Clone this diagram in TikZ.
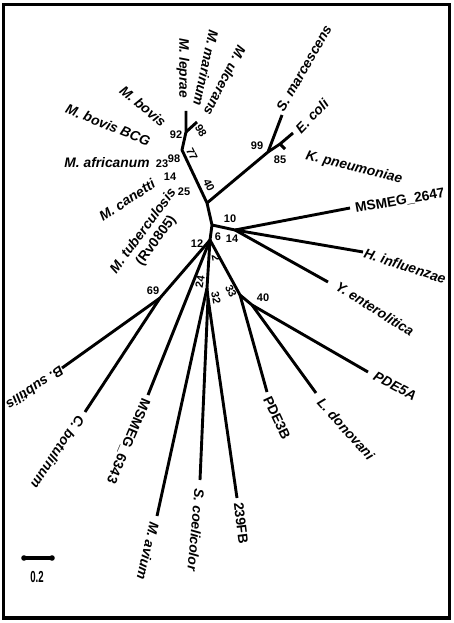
\documentclass[tikz,border=0pt]{standalone}
\usepackage{fontspec}
\setmainfont{Liberation Sans}
\begin{document}
\begin{tikzpicture}[x=1pt,y=-1pt,
  br/.style={line width=2.9pt, line join=round},
  sp/.style={font=\fontsize{13.8}{16}\selectfont\bfseries\itshape, inner sep=0pt},
  sq/.style={font=\fontsize{13.8}{16}\selectfont\bfseries, inner sep=0pt},
  bs/.style={font=\fontsize{11}{12}\selectfont\bfseries, inner sep=0pt}]
\useasboundingbox (0,0) rectangle (454,623);
\draw[line width=3.6pt] (3.5,4.5) rectangle (449.5,618);
% internal nodes
\coordinate (A) at (210,240);
\coordinate (B) at (212,225);
\coordinate (C) at (235,230);
\coordinate (D) at (207,203);
\coordinate (E) at (268,152);
\coordinate (F) at (280,144);
\coordinate (G) at (182,150);
\coordinate (H) at (186,132);
\coordinate (J) at (160,298);
\coordinate (K) at (207,288);
\coordinate (L) at (208,298);
\coordinate (M) at (240,295);
\coordinate (N) at (252,305);
% tips
\coordinate (tLep) at (186,111);
\coordinate (tMar) at (197,122);
\coordinate (tSma) at (282,115);
\coordinate (tEco) at (293,133);
\coordinate (tKpn) at (285,149);
\coordinate (tMs2) at (350,208);
\coordinate (tHin) at (363,252);
\coordinate (tYen) at (328,282);
\coordinate (tBsu) at (62,368);
\coordinate (tCbo) at (85,412);
\coordinate (tMs6) at (148,395);
\coordinate (tMav) at (157,516);
\coordinate (tSco) at (200,480);
\coordinate (t239) at (237,498);
\coordinate (tP3B) at (267,392);
\coordinate (tLdo) at (316,393);
\coordinate (tP5A) at (368,372);
% branches
\draw[br] (A) -- (B) -- (D) -- (G) -- (H) -- (tLep);
\draw[br] (H) -- (tMar);
\draw[br] (D) -- (E) -- (tSma);
\draw[br] (E) -- (F) -- (tEco);
\draw[br] (F) -- (tKpn);
\draw[br] (B) -- (C) -- (tMs2);
\draw[br] (C) -- (tHin);
\draw[br] (C) -- (tYen);
\draw[br] (A) -- (J) -- (tBsu);
\draw[br] (J) -- (tCbo);
\draw[br] (A) -- (tMs6);
\draw[br] (A) -- (K) -- (tMav);
\draw[br] (K) -- (L) -- (tSco);
\draw[br] (L) -- (t239);
\draw[br] (A) -- (M) -- (tP3B);
\draw[br] (M) -- (N) -- (tLdo);
\draw[br] (N) -- (tP5A);
% leaf labels
\node[sp,rotate=-90] (lLep) at (183,68) {M. leprae};
\node[sp,rotate=-102] (lMar) at (206,68) {M. marinum};
\node[sp,rotate=-117] (lUlc) at (225,81) {M. ulcerans};
\node[sp,rotate=60] (lSma) at (304,68) {S. marcescens};
\node[sp,rotate=46] (lEco) at (312,116) {E. coli};
\node[sp,rotate=-14] (lKpn) at (354,168) {K. pneumoniae};
\node[sq,rotate=10] (lMs2) at (400,201) {MSMEG\_2647};
\node[sp,rotate=-18] (lHin) at (405,266) {H. influenzae};
\node[sp,rotate=-32] (lYen) at (375,309) {Y. enterolitica};
\node[sp,rotate=-28] (lP5A) at (395,386) {PDE5A};
\node[sp,rotate=-48] (lLdo) at (346,429) {L. donovani};
\node[sq,rotate=-65] (lP3B) at (277,418) {PDE3B};
\node[sq,rotate=-83] (l239) at (241,523) {239FB};
\node[sp,rotate=-95] (lSco) at (196,530) {S. coelicolor};
\node[sp,rotate=-103] (lMav) at (148,551) {M. avium};
\node[sq,rotate=-113] (lMs6) at (128,441) {MSMEG\_6343};
\node[sp,rotate=-124] (lCbo) at (58,452) {C. botulinum};
\node[sp,rotate=-146] (lBsu) at (35,388) {B. subtilis};
\node[sp,rotate=-40] (lBov) at (143,106) {M. bovis};
\node[sp,rotate=-22] (lBCG) at (108,125) {M. bovis BCG};
\node[sp] (lAfr) at (107,163) {M. africanum};
\node[sp,rotate=33] (lCan) at (127,200) {M. canetti};
\node[sp,rotate=53.5,align=center] (lTub) at (150,236) {M. tuberculosis\\{\upshape (Rv0805)}};
% bootstrap values
\node[bs] (b92) at (176,135) {92};
\node[bs,rotate=-60] (b98a) at (201,131) {98};
\node[bs,rotate=-65] (b77) at (192,154) {77};
\node[bs,rotate=-65] (b40a) at (209,185) {40};
\node[bs] (b98b) at (174,159) {98};
\node[bs] (b23) at (162,164) {23};
\node[bs] (b14a) at (170,177) {14};
\node[bs] (b25) at (184,192) {25};
\node[bs] (b99) at (257,146) {99};
\node[bs] (b85) at (280,160) {85};
\node[bs] (b10) at (230,219) {10};
\node[bs] (b6) at (218,237) {6};
\node[bs] (b14b) at (232,239) {14};
\node[bs] (b12) at (197,244) {12};
\node[bs,rotate=-80] (b2) at (216,258) {2};
\node[bs,rotate=80] (b24) at (200,282) {24};
\node[bs,rotate=-80] (b32) at (216,298) {32};
\node[bs,rotate=-65] (b33) at (231,291) {33};
\node[bs] (b40b) at (263,298) {40};
\node[bs] (b69) at (153,291) {69};
% scale bar
\coordinate (s1) at (24,558);
\coordinate (s2) at (52,558);
\draw[line width=3.8pt] (s1) -- (s2);
\fill (s1) circle (2.8pt) (s2) circle (2.8pt);
\node[font=\fontsize{16}{17}\selectfont\bfseries, inner sep=0pt, xscale=0.6] (sc) at (37,577) {0.2};
\end{tikzpicture}
\end{document}
